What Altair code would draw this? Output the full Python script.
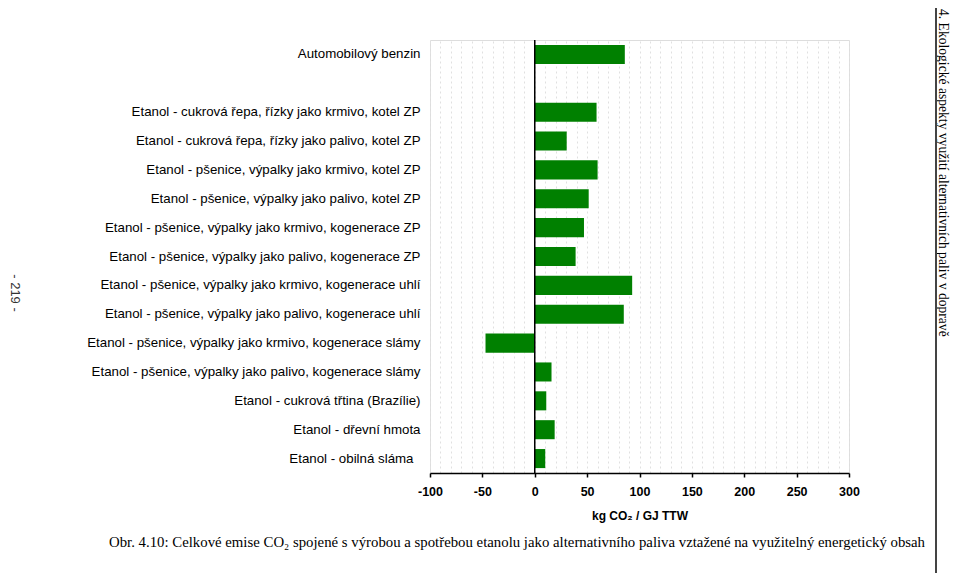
import altair as alt
import pandas as pd

labels = [
    "Automobilový benzin",
    "Etanol - cukrová řepa, řízky jako krmivo, kotel ZP",
    "Etanol - cukrová řepa, řízky jako palivo, kotel ZP",
    "Etanol - pšenice, výpalky jako krmivo, kotel ZP",
    "Etanol - pšenice, výpalky jako palivo, kotel ZP",
    "Etanol - pšenice, výpalky jako krmivo, kogenerace ZP",
    "Etanol - pšenice, výpalky jako palivo, kogenerace ZP",
    "Etanol - pšenice, výpalky jako krmivo, kogenerace uhlí",
    "Etanol - pšenice, výpalky jako palivo, kogenerace uhlí",
    "Etanol - pšenice, výpalky jako krmivo, kogenerace slámy",
    "Etanol - pšenice, výpalky jako palivo, kogenerace slámy",
    "Etanol - cukrová třtina (Brazílie)",
    "Etanol - dřevní hmota",
    "Etanol - obilná sláma",
]
values = [86, 59, 30.5, 60, 51.5, 47, 39, 93, 85, -47, 16, 11, 19, 10]

# order on the axis, with one empty slot after the petrol bar
domain = [labels[0], " "] + labels[1:]

x_ticks = list(range(-100, 301, 10))

axis_title = "kg CO₂ / GJ TTW"
caption = ("Obr. 4.10: Celkové emise CO₂ spojené s výrobou a spotřebou etanolu "
           "jako alternativního paliva vztažené na využitelný energetický obsah")
side_text = "4. Ekologické aspekty využití alternativních paliv v dopravě"
page_no = "- 219 -"

df = pd.DataFrame({"label": labels, "value": values})

xscale = alt.Scale(domain=[-100, 300], nice=False, zero=False)

bars = alt.Chart(df).mark_bar(color="#008000").encode(
    x=alt.X(
        "value:Q",
        scale=xscale,
        axis=alt.Axis(
            values=x_ticks,
            tickCount=200,
            labelExpr="datum.value % 50 === 0 ? ('' + datum.value) : ''",
            labelOverlap=False,
            tickSize={"condition": {"test": "datum.value % 50 === 0", "value": 4}, "value": 0},
            tickColor="black",
            tickWidth=1.5,
            grid=True,
            gridDash=[2, 3],
            gridColor="#e0e0e0",
            gridWidth=1,
            domainColor="black",
            domainWidth=1.5,
            labelFont="Liberation Sans",
            labelFontWeight="bold",
            labelFontSize=12.5,
            labelColor="black",
            labelPadding=8,
            labelFlush=False,
            title=axis_title,
            titleFont="Liberation Sans",
            titleFontWeight="bold",
            titleFontSize=12,
            titleColor="black",
            titlePadding=13,
        ),
    ),
    y=alt.Y(
        "label:N",
        scale=alt.Scale(domain=domain, paddingInner=0.34, paddingOuter=0.17),
        axis=alt.Axis(
            title=None,
            ticks=False,
            domain=False,
            labelFont="Liberation Sans",
            labelFontSize=13.3,
            labelColor="black",
            labelPadding={"condition": {"test": "datum.value === 'Etanol - obilná sláma'", "value": 17}, "value": 10},
            labelLimit=500,
        ),
    ),
)

zero = alt.Chart(pd.DataFrame({"z": [0]})).mark_rule(color="black", strokeWidth=1.5).encode(
    x=alt.X("z:Q", scale=xscale)
)

cap = alt.Chart(pd.DataFrame({"t": [caption]})).mark_text(
    font="Liberation Serif", fontSize=14.8, align="center", baseline="middle", color="black"
).encode(x=alt.value(87), y=alt.value(503), text="t:N")

side = alt.Chart(pd.DataFrame({"t": [side_text]})).mark_text(
    font="Liberation Serif", fontSize=13.6, align="left", baseline="middle", angle=90, color="black"
).encode(x=alt.value(513), y=alt.value(-31), text="t:N")

vline = alt.Chart(pd.DataFrame({"t": [0]})).mark_rule(color="#444444", strokeWidth=2).encode(
    x=alt.value(506), y=alt.value(-40), y2=alt.value(541)
)

page = alt.Chart(pd.DataFrame({"t": [page_no]})).mark_text(
    font="Liberation Sans", fontSize=13, align="center", baseline="middle", angle=90, color="#333333"
).encode(x=alt.value(-415), y=alt.value(253), text="t:N")

chart = alt.layer(bars, zero, cap, side, vline, page).properties(
    width=419,
    height=433,
    autosize=alt.AutoSizeParams(type="none"),
    padding={"left": 422, "top": 32, "right": 103, "bottom": 100},
).configure_view(stroke="black", strokeWidth=1.5).configure(background="white")

chart.save("out.html", embed_options={"renderer": "svg", "actions": False})
